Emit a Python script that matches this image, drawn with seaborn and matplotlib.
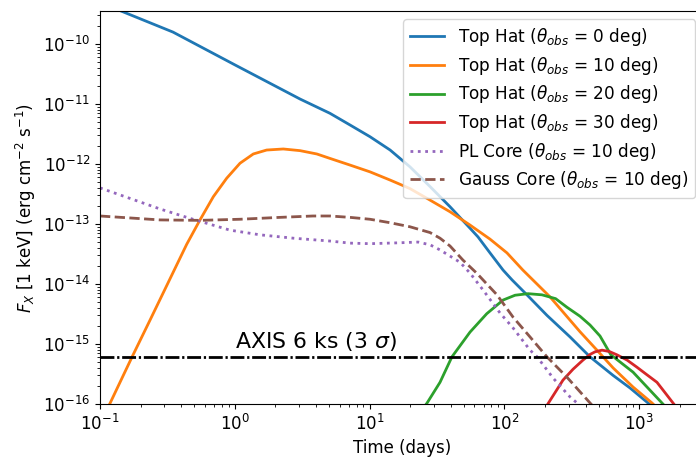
import matplotlib
matplotlib.use("Agg")
import matplotlib.pyplot as plt
import seaborn as sns

# light curves (time in days, flux in erg/cm^2/s)
t_th0 = [0.1, 0.141, 0.348, 1.0, 3.05, 5.08, 7.16, 10.07, 14.2, 19.9, 28.1, 39.5,
         55.6, 63.7, 78.2, 97.7, 114, 147, 207, 307, 432, 640, 855, 1162, 1300]
f_th0 = [5.1e-10, 3.6e-10, 1.58e-10, 4.5e-11, 1.21e-11, 7.0e-12, 4.47e-12, 2.85e-12,
         1.71e-12, 9.0e-13, 4.2e-13, 1.94e-13, 8.5e-14, 6.1e-14, 3.3e-14, 1.71e-14,
         1.17e-14, 6.6e-15, 3.0e-15, 1.31e-15, 6.1e-16, 3.0e-16, 1.85e-16, 1.04e-16,
         8.5e-17]

t_th10 = [0.1, 0.119, 0.173, 0.235, 0.314, 0.44, 0.552, 0.693, 0.871, 1.093, 1.372,
          1.724, 2.29, 3.05, 4.06, 5.08, 7.16, 10.07, 14.2, 19.9, 28.1, 39.5, 55.6,
          78.2, 104.5, 137, 218, 364, 486, 640, 900, 1245, 1400]
f_th10 = [4.7e-17, 1.04e-16, 6.1e-16, 2.5e-15, 9.6e-15, 4.6e-14, 1.17e-13, 2.85e-13,
          5.8e-13, 1.03e-12, 1.47e-12, 1.71e-12, 1.78e-12, 1.67e-12, 1.47e-12, 1.24e-12,
          9.6e-13, 7.4e-13, 5.4e-13, 3.9e-13, 2.5e-13, 1.6e-13, 9.6e-14, 5.6e-14,
          3.3e-14, 1.71e-14, 6.1e-15, 1.6e-15, 7.9e-16, 4.0e-16, 1.92e-16, 1.04e-16,
          8.0e-17]

t_th20 = [25, 26.7, 33.3, 40.8, 55.6, 74, 97.7, 120, 150, 190, 240, 291, 364, 432,
          512, 617, 900, 1476, 1600]
f_th20 = [8.5e-17, 1.04e-16, 2.3e-16, 6.1e-16, 1.58e-15, 3.2e-15, 5.4e-15, 6.5e-15,
          6.9e-15, 6.6e-15, 5.7e-15, 4.1e-15, 2.9e-15, 2.07e-15, 1.36e-15, 6.6e-16,
          3.4e-16, 1.04e-16, 8.5e-17]

t_th30 = [200, 210, 272, 323, 383, 432, 470, 530, 600, 684, 813, 963, 1135, 1355,
          1514, 1782, 1950]
f_th30 = [8.0e-17, 1.0e-16, 2.5e-16, 3.8e-16, 5.4e-16, 6.7e-16, 7.4e-16, 7.9e-16,
          7.5e-16, 6.6e-16, 5.4e-16, 4.1e-16, 3.1e-16, 2.3e-16, 1.67e-16, 1.04e-16,
          8.0e-17]

t_pl = [0.1, 0.279, 0.466, 0.655, 0.921, 1.54, 2.72, 5.08, 7.16, 10.1, 16.0, 22.9,
        28.1, 33.3, 46.9, 55.6, 69.3, 92.7, 116, 155, 175, 230, 307, 346, 380]
f_pl = [4.0e-13, 1.78e-13, 1.24e-13, 9.9e-14, 7.9e-14, 6.6e-14, 5.8e-14, 5.2e-14,
        4.8e-14, 4.7e-14, 4.85e-14, 5.0e-14, 4.5e-14, 3.7e-14, 2.3e-14, 1.52e-14,
        8.0e-15, 3.3e-15, 1.85e-15, 7.9e-16, 6.1e-16, 2.7e-16, 1.31e-16, 1.04e-16,
        8.0e-17]

t_gc = [0.1, 0.279, 0.552, 1.093, 2.16, 3.8, 5.08, 7.16, 10.07, 14.2, 19.9, 28.1,
        33.3, 39.5, 49.3, 62.6, 88.1, 116, 155, 207, 291, 432, 480]
f_gc = [1.36e-13, 1.17e-13, 1.15e-13, 1.2e-13, 1.29e-13, 1.36e-13, 1.36e-13, 1.29e-13,
        1.2e-13, 1.05e-13, 9.0e-14, 7.2e-14, 5.8e-14, 4.3e-14, 2.5e-14, 1.5e-14,
        6.6e-15, 2.8e-15, 1.31e-15, 6.1e-16, 2.8e-16, 1.04e-16, 8.0e-17]

axis_limit = 6e-16

labels = [r'Top Hat ($\theta_{obs}$ = 0 deg)',
          r'Top Hat ($\theta_{obs}$ = 10 deg)',
          r'Top Hat ($\theta_{obs}$ = 20 deg)',
          r'Top Hat ($\theta_{obs}$ = 30 deg)',
          r'PL Core ($\theta_{obs}$ = 10 deg)',
          r'Gauss Core ($\theta_{obs}$ = 10 deg)']

curves = [(t_th0, f_th0, 'C0', '-'),
          (t_th10, f_th10, 'C1', '-'),
          (t_th20, f_th20, 'C2', '-'),
          (t_th30, f_th30, 'C3', '-'),
          (t_pl, f_pl, 'C4', ':'),
          (t_gc, f_gc, 'C5', '--')]

plt.rcParams['font.size'] = 12

fig = plt.figure(figsize=(6.96, 4.57), dpi=100)
ax = fig.add_axes([100 / 696, 53 / 457, 603.5 / 696, 393 / 457])
ax.set_xscale('log')
ax.set_yscale('log')

for (t, f, c, ls), lab in zip(curves, labels):
    sns.lineplot(x=t, y=f, ax=ax, color=c, linestyle=ls, linewidth=2, label=lab)

ax.axhline(axis_limit, color='k', linewidth=2, dashes=(5.0, 1.0, 0.8, 1.0))
ax.text(1.0, 8.6e-16, r'AXIS 6 ks (3 $\sigma$)', fontsize=15.8)

ax.set_xlim(0.1, 3000)
ax.set_ylim(1e-16, 3.55e-10)
ax.set_xlabel('Time (days)')
ax.set_ylabel(r'$F_X$ [1 keV] (erg cm$^{-2}$ s$^{-1}$)')
ax.legend(loc='upper right', fontsize=12.2, labelspacing=0.39)

fig.savefig('out.png', dpi=100)
